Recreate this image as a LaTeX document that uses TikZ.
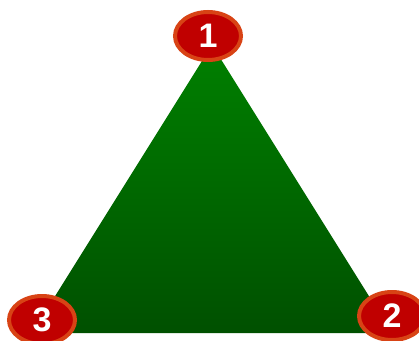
\documentclass[tikz,border=0pt]{standalone}
\usepackage{fontspec}
\setmainfont{Liberation Sans}
\usetikzlibrary{shapes.geometric}
\definecolor{ringc}{RGB}{216,67,21}
\definecolor{fillc}{RGB}{192,0,0}
\definecolor{gtop}{RGB}{0,128,0}
\definecolor{gbot}{RGB}{0,80,0}
\tikzset{
  badge/.style={ellipse, draw=ringc, line width=4pt, fill=fillc,
    minimum width=66pt, minimum height=48pt, inner sep=0pt,
    text=white, font=\fontsize{34}{34}\selectfont\bfseries}
}
\begin{document}
\begin{tikzpicture}[x=1pt,y=-1pt]
\useasboundingbox (0,0) rectangle (419,340);
\coordinate (apex) at (212,45);
\coordinate (bl) at (32,333);
\coordinate (br) at (392,333);
\shade[top color=gtop, bottom color=gbot] (apex) -- (br) -- (bl) -- cycle;
\node[badge] (n1) at (208,36) {1};
\node[badge] (n2) at (392,316) {2};
\node[badge] (n3) at (42,320) {3};
\end{tikzpicture}
\end{document}
